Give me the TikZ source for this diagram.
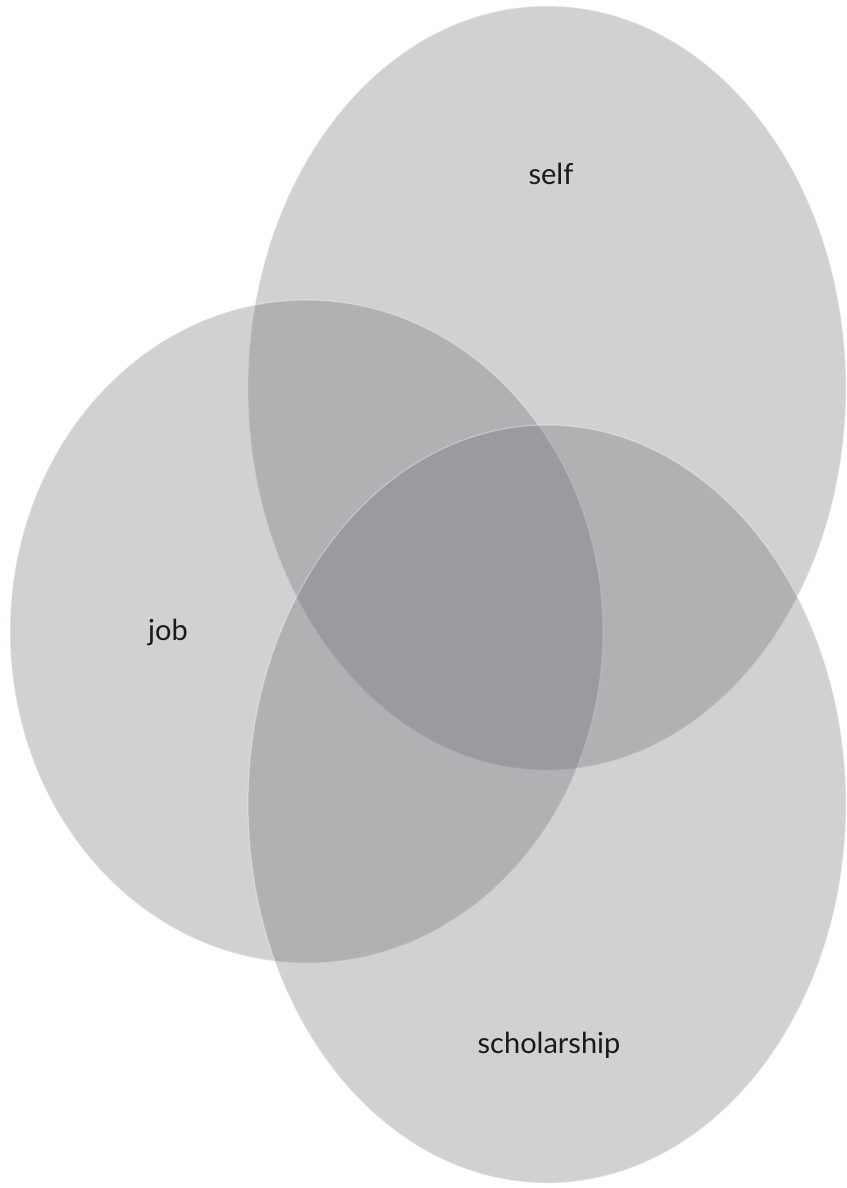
\documentclass[tikz,border=0pt]{standalone}
\usepackage{fontspec}
\setmainfont{Lato}
\definecolor{venngray}{RGB}{100,103,108}
\tikzset{
  venn/.style={fill=venngray, fill opacity=0.3, draw=white, draw opacity=0.35, line width=1.2pt},
  setlabel/.style={font=\fontsize{29}{34}\selectfont, text=black!90}
}

\begin{document}
\begin{tikzpicture}[x=1pt, y=-1pt]
          \useasboundingbox (0,0) rectangle (846,1188);

          \path[venn] (547,388) ellipse [x radius=299, y radius=382];
          \path[venn] (306.5,631.5) ellipse [x radius=296.5, y radius=331.5];
          \path[venn] (547,804) ellipse [x radius=299, y radius=379];

          \node[setlabel] (self) at (551,174) {self};
          \node[setlabel] (job) at (168,632) {job};
          \node[setlabel] (scholarship) at (549,1045) {scholarship};
        \end{tikzpicture}
\end{document}
